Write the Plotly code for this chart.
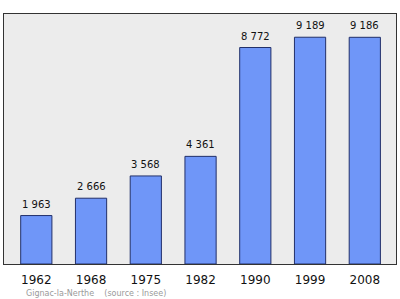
import plotly.graph_objects as go

years = ["1962", "1968", "1975", "1982", "1990", "1999", "2008"]
population = [1963, 2666, 3568, 4361, 8772, 9189, 9186]
labels = ["1 963", "2 666", "3 568", "4 361", "8 772", "9 189", "9 186"]
caption = "Gignac-la-Nerthe    (source : Insee)"

fig = go.Figure()
fig.add_trace(go.Bar(
    x=years, y=population, width=0.57,
    marker=dict(color="#6f96f8", line=dict(color="#22306a", width=1)),
    hoverinfo="skip",
))

for i, (v, lab) in enumerate(zip(population, labels)):
    fig.add_annotation(x=i, y=v, xref="x", yref="y", text=lab, showarrow=False,
                       yanchor="bottom", yshift=4,
                       font=dict(family="DejaVu Sans", size=10, color="#111"))

fig.add_annotation(xref="paper", yref="paper", x=0.05, y=-0.118, xanchor="left", yanchor="middle",
                   text=caption, showarrow=False,
                   font=dict(family="DejaVu Sans", size=8, color="#9a9a9a"))

fig.update_layout(
    width=400, height=299,
    margin=dict(l=4, r=4, t=14, b=35),
    paper_bgcolor="white", plot_bgcolor="#ececec",
    showlegend=False,
    xaxis=dict(type="category", range=[-0.59, 6.57], showgrid=False,
               ticks="outside", ticklen=5, tickcolor="rgba(0,0,0,0)",
               showline=True, linecolor="#333", linewidth=1, mirror=True,
               tickfont=dict(family="DejaVu Sans", size=12, color="#111")),
    yaxis=dict(range=[0, 10130], showgrid=False, showticklabels=False, zeroline=False,
               showline=True, linecolor="#333", linewidth=1, mirror=True),
)
fig.write_html("out.html")
